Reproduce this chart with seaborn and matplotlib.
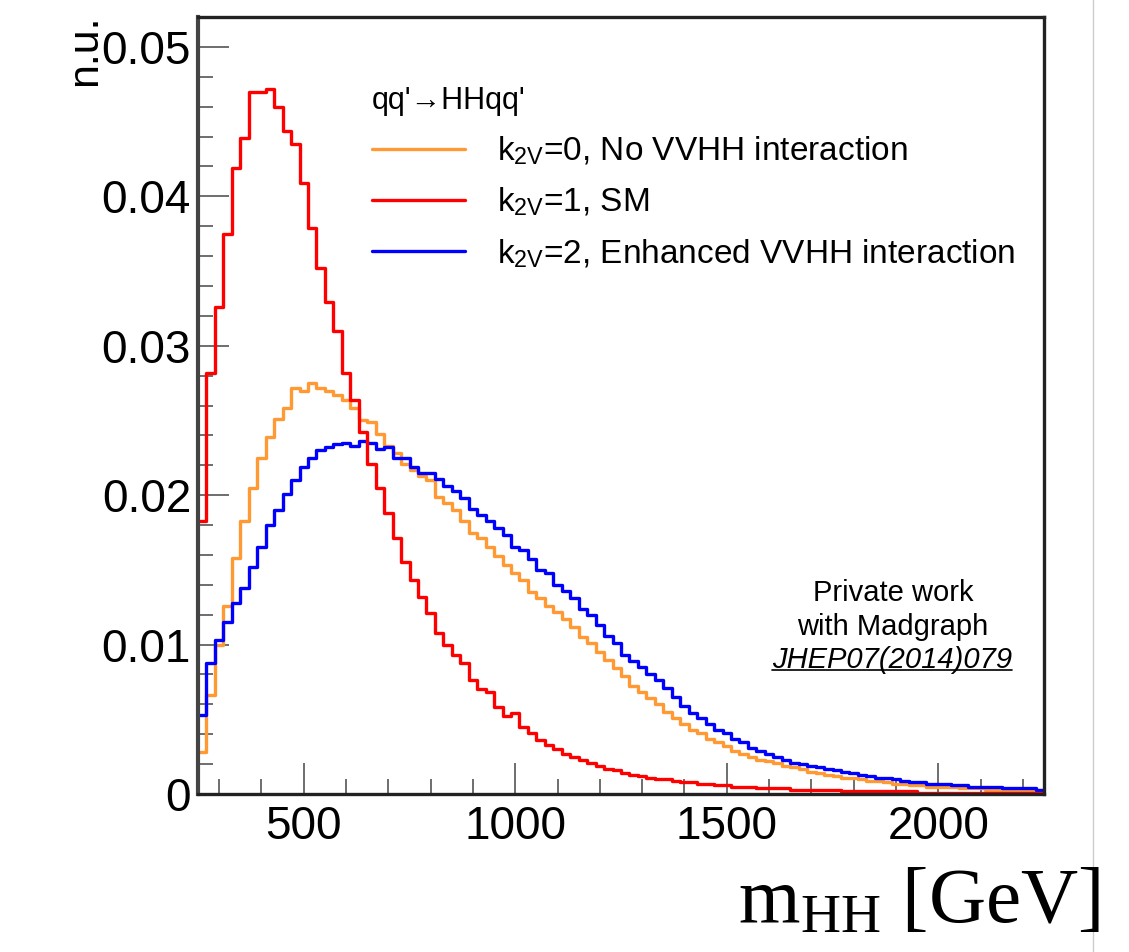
import numpy as np
import pandas as pd
import matplotlib
matplotlib.use("Agg")
import matplotlib.pyplot as plt
import seaborn as sns
from matplotlib.ticker import MultipleLocator, FixedLocator, FixedFormatter
from matplotlib.lines import Line2D

# ---------------- data ----------------
x_min, x_max, bin_width = 250, 2250, 20
y_max = 0.052

# k2V = 0 (orange)
k2v0 = [0.0028, 0.0066, 0.0100, 0.0126, 0.0158, 0.0183, 0.0205, 0.0225, 0.0239, 0.0251,
        0.0258, 0.0272, 0.0270, 0.0275, 0.0272, 0.0270, 0.0267, 0.0264, 0.0258, 0.0250,
        0.0249, 0.0241, 0.0233, 0.0228, 0.0221, 0.0217, 0.0213, 0.0210, 0.0199, 0.0195,
        0.0190, 0.0183, 0.0175, 0.0171, 0.0165, 0.0159, 0.0153, 0.0148, 0.0143, 0.0135,
        0.0131, 0.0126, 0.0122, 0.0117, 0.0112, 0.0105, 0.0101, 0.0095, 0.0090, 0.0084,
        0.0079, 0.0072, 0.0068, 0.0064, 0.0060, 0.0055, 0.0051, 0.0047, 0.0043, 0.0041,
        0.0037, 0.0035, 0.0032, 0.0029, 0.0027, 0.0025, 0.0023, 0.0022, 0.0021, 0.0019,
        0.0018, 0.0017, 0.0015, 0.0014, 0.0013, 0.0012, 0.0011, 0.0011, 0.0010, 0.0009,
        0.0009, 0.0008, 0.0007, 0.0007, 0.0006, 0.0006, 0.0005, 0.0005, 0.0005, 0.0005,
        0.0004, 0.0004, 0.0004, 0.0003, 0.0003, 0.0003, 0.0003, 0.0003, 0.0003, 0.0003]

# k2V = 1 (red, SM)
k2v1 = [0.0183, 0.0282, 0.0326, 0.0375, 0.0419, 0.0439, 0.0470, 0.0470, 0.0472, 0.0460,
        0.0444, 0.0435, 0.0409, 0.0379, 0.0352, 0.0329, 0.0310, 0.0282, 0.0264, 0.0242,
        0.0221, 0.0205, 0.0188, 0.0171, 0.0155, 0.0143, 0.0132, 0.0121, 0.0108, 0.0100,
        0.0093, 0.0088, 0.0076, 0.0070, 0.0068, 0.0058, 0.0052, 0.0054, 0.0045, 0.0041,
        0.0036, 0.0033, 0.0030, 0.0027, 0.0025, 0.0023, 0.0021, 0.0019, 0.0017, 0.0016,
        0.0014, 0.0013, 0.0012, 0.0011, 0.0010, 0.0010, 0.0009, 0.0008, 0.0008, 0.0007,
        0.0007, 0.0006, 0.0006, 0.0005, 0.0005, 0.0005, 0.0004, 0.0004, 0.0004, 0.0004,
        0.0003, 0.0003, 0.0003, 0.0003, 0.0003, 0.0003, 0.0002, 0.0002, 0.0002, 0.0002,
        0.0002, 0.0002, 0.0002, 0.0002, 0.0002, 0.0001, 0.0001, 0.0001, 0.0001, 0.0001,
        0.0001, 0.0001, 0.0001, 0.0001, 0.0001, 0.0001, 0.0001, 0.0001, 0.0001, 0.0001]

# k2V = 2 (blue)
k2v2 = [0.0053, 0.0088, 0.0103, 0.0115, 0.0128, 0.0138, 0.0152, 0.0165, 0.0180, 0.0190,
        0.0201, 0.0210, 0.0219, 0.0225, 0.0230, 0.0232, 0.0234, 0.0235, 0.0233, 0.0236,
        0.0235, 0.0231, 0.0232, 0.0225, 0.0225, 0.0219, 0.0215, 0.0215, 0.0211, 0.0206,
        0.0203, 0.0198, 0.0191, 0.0187, 0.0183, 0.0178, 0.0173, 0.0165, 0.0163, 0.0157,
        0.0150, 0.0148, 0.0140, 0.0136, 0.0131, 0.0124, 0.0120, 0.0113, 0.0106, 0.0101,
        0.0093, 0.0089, 0.0085, 0.0080, 0.0076, 0.0071, 0.0065, 0.0059, 0.0054, 0.0051,
        0.0047, 0.0043, 0.0041, 0.0037, 0.0035, 0.0031, 0.0029, 0.0027, 0.0025, 0.0023,
        0.0021, 0.0020, 0.0019, 0.0018, 0.0017, 0.0016, 0.0015, 0.0014, 0.0013, 0.0012,
        0.0011, 0.0011, 0.0010, 0.0009, 0.0008, 0.0008, 0.0007, 0.0007, 0.0007, 0.0006,
        0.0006, 0.0005, 0.0005, 0.0005, 0.0005, 0.0004, 0.0004, 0.0004, 0.0004, 0.0003]

assert len(k2v0) == 100 and len(k2v1) == 100 and len(k2v2) == 100

series_labels = [r"k$_{\mathsf{2V}}$=0, No VVHH interaction",
                 r"k$_{\mathsf{2V}}$=1, SM",
                 r"k$_{\mathsf{2V}}$=2, Enhanced VVHH interaction"]
legend_header = "qq'\u2192HHqq'"
x_major_ticks = [500, 1000, 1500, 2000]
y_major_ticks = [0, 0.01, 0.02, 0.03, 0.04, 0.05]
y_tick_labels = ["0", "0.01", "0.02", "0.03", "0.04", "0.05"]
y_label = "n.u."
x_label = r"$\mathrm{m_{HH}}$ [GeV]"
note_lines = ["Private work", "with Madgraph", "JHEP07(2014)079"]
series_colors = ["#FF9933", "#FF0000", "#0000FF"]

# ---------------- style ----------------
sns.set_theme(style="white")
plt.rcParams["font.family"] = ["Liberation Sans", "DejaVu Sans"]
plt.rcParams["text.color"] = "black"
plt.rcParams["axes.labelcolor"] = "black"
plt.rcParams["mathtext.fontset"] = "custom"
plt.rcParams["mathtext.rm"] = "Liberation Serif"
plt.rcParams["mathtext.sf"] = "Liberation Sans"
plt.rcParams["mathtext.it"] = "Liberation Serif:italic"

W, H = 1129, 952
fig = plt.figure(figsize=(W / 100, H / 100), dpi=100)
fig.patch.set_facecolor("white")
ax = fig.add_axes([198 / W, 1 - 794 / H, (1044 - 198) / W, (794 - 17) / H])

edges = [float(e) for e in np.arange(x_min, x_max + bin_width, bin_width)]
centers = np.arange(x_min, x_max, bin_width) + bin_width / 2
df = pd.DataFrame({
    "m": np.tile(centers, 3),
    "w": np.concatenate([k2v0, k2v1, k2v2]),
    "series": np.repeat(series_labels, len(centers)),
})

draw_order = [0, 2, 1]
for i in draw_order:
    sub = df[df["series"] == series_labels[i]]
    sns.histplot(data=sub, x="m", weights="w", bins=edges, element="step",
                 fill=False, color=series_colors[i], linewidth=2.4, ax=ax)

ax.set_xlim(x_min, x_max)
ax.set_ylim(0, y_max)
ax.set_xlabel("")
ax.set_ylabel("")

ax.xaxis.set_major_locator(FixedLocator(x_major_ticks))
ax.xaxis.set_minor_locator(MultipleLocator(100))
ax.yaxis.set_major_locator(FixedLocator(y_major_ticks))
ax.yaxis.set_major_formatter(FixedFormatter(y_tick_labels))
ax.yaxis.set_minor_locator(MultipleLocator(0.002))

ax.tick_params(which="major", direction="in", length=22, width=1.2, color="#555555",
               labelsize=33, labelcolor="black", bottom=True, left=True, top=False, right=False)
ax.tick_params(which="minor", direction="in", length=11, width=1.2, color="#555555",
               bottom=True, left=True, top=False, right=False)
ax.tick_params(axis="y", which="major", pad=5)
ax.tick_params(axis="x", which="major", pad=8)

for side, sp in ax.spines.items():
    sp.set_visible(True)
    sp.set_color("#222222")
    sp.set_linewidth(2.4)
ax.spines["left"].set_color("#444444")
ax.spines["left"].set_linewidth(3.0)

# legend
handles = [Line2D([0], [0], color=c, lw=2.4) for c in series_colors]
leg = ax.legend(handles, series_labels, title=legend_header, loc="upper left",
                bbox_to_anchor=(372 / W, 1 - 86 / H), bbox_transform=fig.transFigure,
                frameon=False, fontsize=24, title_fontsize=22, handlelength=2.8,
                handletextpad=0.95, labelspacing=0.56, borderpad=0, borderaxespad=0,
                alignment="left")
for t in leg.get_texts():
    t.set_color("black")
leg.get_title().set_color("black")

# y label
fig.text(85 / W, 1 - 14 / H, y_label, rotation=90, ha="center", va="top", fontsize=31,
         color="black")

# x label (serif)
fig.text(1100 / W, 1 - 922 / H, x_label, ha="right", va="baseline",
         fontsize=57, family="Liberation Serif", color="black")

# note
fig.text(893 / W, 1 - 593 / H, note_lines[0], ha="center", va="center", fontsize=21,
         color="black")
fig.text(893 / W, 1 - 627 / H, note_lines[1], ha="center", va="center", fontsize=21,
         color="black")
t3 = fig.text(892 / W, 1 - 660 / H, note_lines[2], ha="center", va="center", fontsize=21,
              style="italic", color="black")

fig.canvas.draw()
bb = t3.get_window_extent(renderer=fig.canvas.get_renderer())
uy = (bb.y0 + 4) / H
fig.add_artist(Line2D([bb.x0 / W, bb.x1 / W], [uy, uy], color="black", lw=1.2,
                      transform=fig.transFigure))

# screenshot border line at right
fig.add_artist(Line2D([1093 / W, 1093 / W], [0, 1], color="#cccccc", lw=1.0,
                      transform=fig.transFigure))

fig.savefig("out.png", dpi=100, facecolor="white")
